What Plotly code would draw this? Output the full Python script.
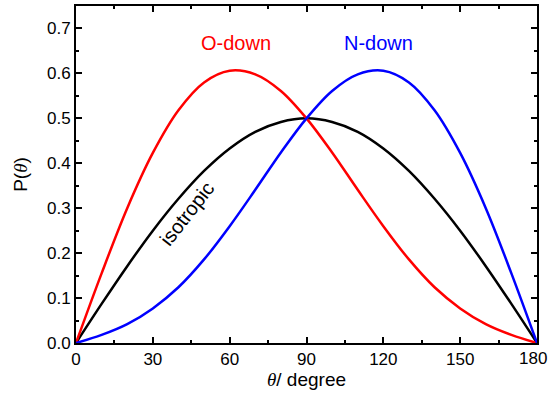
import plotly.graph_objects as go

theta = [0, 10, 20, 30, 40, 50, 60, 70, 80, 90, 100, 110, 120, 130, 140, 150, 160, 170, 180]
isotropic = [0.0, 0.087, 0.171, 0.250, 0.321, 0.383, 0.433, 0.470, 0.492, 0.500,
             0.492, 0.470, 0.433, 0.383, 0.321, 0.250, 0.171, 0.087, 0.0]
o_down = [0.0, 0.155, 0.300, 0.423, 0.518, 0.580, 0.606, 0.598, 0.561, 0.500,
          0.424, 0.341, 0.260, 0.186, 0.124, 0.077, 0.042, 0.018, 0.0]
n_down = [0.0, 0.018, 0.042, 0.077, 0.124, 0.186, 0.260, 0.341, 0.424, 0.500,
          0.561, 0.598, 0.606, 0.580, 0.518, 0.423, 0.300, 0.155, 0.0]
x_ticks = [0, 30, 60, 90, 120, 150, 180]
x_ticklabels = ["0", "30", "60", "90", "120", "150", ""]
last_x_label = "180"

FONT = "Liberation Sans, Arial, sans-serif"
SERIF = "Liberation Serif, Times New Roman, serif"

fig = go.Figure()
fig.add_trace(go.Scatter(x=theta, y=isotropic, mode="lines",
                         line=dict(color="black", width=2.5, shape="spline", smoothing=1.0)))
fig.add_trace(go.Scatter(x=theta, y=o_down, mode="lines",
                         line=dict(color="#ff0000", width=2.5, shape="spline", smoothing=1.0)))
fig.add_trace(go.Scatter(x=theta, y=n_down, mode="lines",
                         line=dict(color="#0000ff", width=2.5, shape="spline", smoothing=1.0)))

fig.add_annotation(x=62.4, y=0.667, text="O-down", showarrow=False,
                   font=dict(family=FONT, size=20, color="#ff0000"))
fig.add_annotation(x=118.3, y=0.667, text="N-down", showarrow=False,
                   font=dict(family=FONT, size=20, color="#0000ff"))
fig.add_annotation(x=43.2, y=0.287, text="isotropic", showarrow=False, textangle=-52,
                   font=dict(family=FONT, size=20, color="black"))
# last x tick label, kept inside the page edge
fig.add_annotation(xref="paper", yref="paper", x=1, y=0, xshift=11, yshift=-5,
                   xanchor="right", yanchor="top", text=last_x_label, showarrow=False,
                   font=dict(family=FONT, size=17, color="black"), borderpad=0)

axis_common = dict(
    showline=True, linecolor="black", linewidth=2, mirror="allticks",
    ticks="inside", ticklen=6, tickwidth=2, tickcolor="black",
    showgrid=False, zeroline=False, ticklabeloverflow="allow", automargin=False,
    tickfont=dict(family=FONT, size=17, color="black"),
)

fig.update_xaxes(range=[0, 180], tickvals=x_ticks, ticktext=x_ticklabels,
                 minor=dict(ticks="inside", ticklen=3, tickwidth=2, tickcolor="black", dtick=15, tick0=0,
                            showgrid=False),
                 title=dict(text=f"<span style='font-family:{SERIF}'><i>θ</i></span>/ degree",
                            font=dict(family=FONT, size=19, color="black"), standoff=3),
                 **axis_common)
fig.update_yaxes(range=[0, 0.75], tickvals=[0, 0.1, 0.2, 0.3, 0.4, 0.5, 0.6, 0.7], tickformat=".1f",
                 minor=dict(ticks="inside", ticklen=3, tickwidth=2, tickcolor="black", dtick=0.05, tick0=0,
                            showgrid=False),
                 title=dict(text=f"P(<span style='font-family:{SERIF}'><i>θ</i></span>)",
                            font=dict(family=FONT, size=19, color="black"), standoff=14),
                 **axis_common)

fig.update_layout(width=548, height=394, showlegend=False,
                  margin=dict(l=76, r=11, t=6, b=51),
                  plot_bgcolor="white", paper_bgcolor="white")

fig.write_html("out.html")
